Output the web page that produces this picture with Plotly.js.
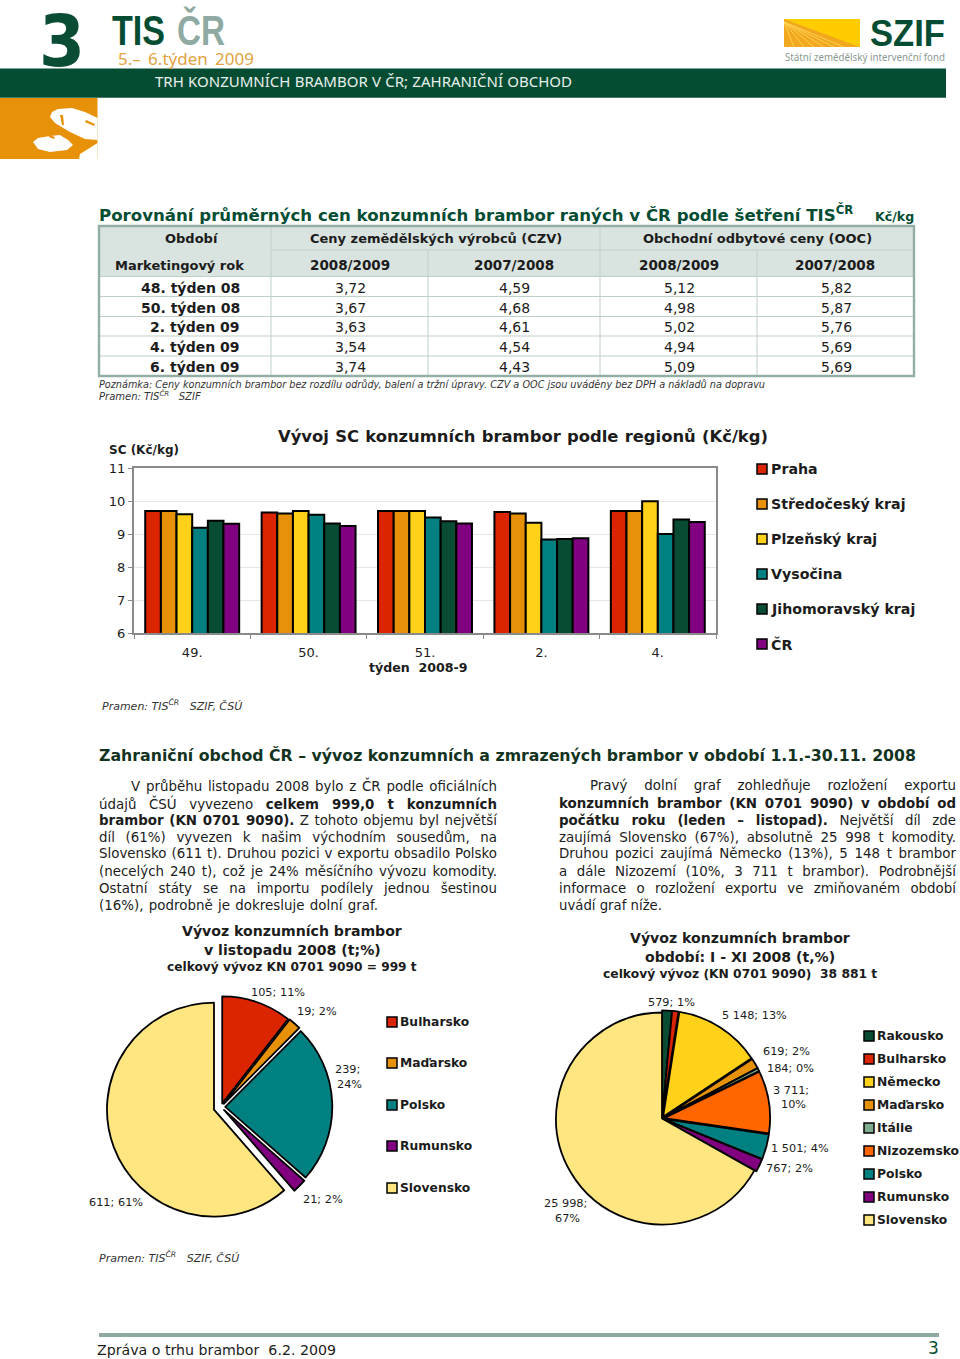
<!DOCTYPE html>
<html><head><meta charset="utf-8">
<script src="https://cdn.plot.ly/plotly-3.0.1.min.js"></script>
<style>html,body{margin:0;padding:0;background:#fff}#c{width:960px;height:1359px}</style></head>
<body><div id="c"></div>
<script>
// ---------- DATA ----------
const weeks = ['49.','50.','51.','2.','4.'];
const regionNames = ['Praha','Středočeský kraj','Plzeňský kraj','Vysočina','Jihomoravský kraj','ČR'];
const regionColors = ['#DB2400','#E79108','#FFD119','#008080','#084D33','#800080'];
const praha      = [9.70,9.65,9.70,9.67,9.70];
const stredocesky= [9.70,9.62,9.70,9.62,9.70];
const plzensky   = [9.60,9.70,9.70,9.34,9.99];
const vysocina   = [9.19,9.58,9.50,8.83,9.00];
const jihomorav  = [9.40,9.32,9.39,8.85,9.44];
const cr         = [9.31,9.24,9.32,8.87,9.36];
const regionValues = [praha,stredocesky,plzensky,vysocina,jihomorav,cr];

const tablePeriods = ['48. týden 08','50. týden 08','2. týden 09','4. týden 09','6. týden 09'];
const czv0809 = ['3,72','3,67','3,63','3,54','3,74'];
const czv0708 = ['4,59','4,68','4,61','4,54','4,43'];
const ooc0809 = ['5,12','4,98','5,02','4,94','5,09'];
const ooc0708 = ['5,82','5,87','5,76','5,69','5,69'];

const pie1Labels = ['Bulharsko','Maďarsko','Polsko','Rumunsko','Slovensko'];
const pie1Values = [105,19,239,21,611];
const pie1Colors = ['#DB2400','#E79108','#008080','#800080','#FFE680'];
const pie1Pull   = [0.035,0.04,0.04,0.04,0.07];

const pie2Labels = ['Rakousko','Bulharsko','Německo','Maďarsko','Itálie','Nizozemsko','Polsko','Rumunsko','Slovensko'];
const pie2Values = [579,374,5148,619,184,3711,1501,767,25998];
const pie2Colors = ['#084D33','#DB2400','#FFD119','#E79108','#7FAD8E','#FF6600','#008080','#800080','#FFE680'];
const pie2Pull   = [0.02,0.02,0.02,0.02,0.02,0.02,0.02,0.02,0.0];

const leftLines = [
 ['V průběhu listopadu 2008 bylo z ČR podle oficiálních',131,786,497],
 ['údajů ČSÚ vyvezeno <b>celkem 999,0 t konzumních</b>',99,803,497],
 ['<b>brambor (KN 0701 9090).</b> Z tohoto objemu byl největší',99,820,497],
 ['díl (61%) vyvezen k našim východním sousedům, na',99,837,497],
 ['Slovensko (611 t). Druhou pozici v exportu obsadilo Polsko',99,854,497],
 ['(necelých 240 t), což je 24% měsíčního vývozu komodity.',99,871,497],
 ['Ostatní státy se na importu podílely jednou šestinou',99,888,497],
 ['(16%), podrobně je dokresluje dolní graf.',99,905,378]];
const rightLines = [
 ['Pravý dolní graf zohledňuje rozložení exportu',590,786,956],
 ['<b>konzumních brambor (KN 0701 9090) v období od</b>',559,803,956],
 ['<b>počátku roku (leden – listopad).</b> Největší díl zde',559,820,956],
 ['zaujímá Slovensko (67%), absolutně 25 998 t komodity.',559,837,956],
 ['Druhou pozici zaujímá Německo (13%), 5 148 t brambor',559,854,956],
 ['a dále Nizozemí (10%, 3 711 t brambor). Podrobnější',559,871,956],
 ['informace o rozložení exportu ve zmiňovaném období',559,888,956],
 ['uvádí graf níže.',559,905,662]];

const pie1Notes = [['105; 11%',278,993],['19; 2%',317,1012],['239;',347,1069],['24%',349,1084],['21; 2%',323,1199],['611; 61%',116,1202]];
const pie2Notes = [['579; 1%',671,1002],['5 148; 13%',754,1015],['619; 2%',786,1051],['184; 0%',790,1068],['3 711;',791,1090],['10%',793,1104],['1 501; 4%',800,1148],['767; 2%',789,1168],['25 998;',565,1203],['67%',567,1218]];

// ---------- HELPERS ----------
const W=960,H=1359;
const px=x=>x/W, py=y=>1-y/H;
const V="'DejaVu Sans',Verdana,sans-serif", LS="'Liberation Sans',Arial,sans-serif", NS="'Noto Sans',sans-serif";
const DG='#044D33';
const anns=[],fits=[],shapes=[];
function T(text,x,y,o={}){
  let weight='normal',style='normal',m;
  if((m=text.match(/^<b>([^<]*)<\/b>$/))){text=m[1];weight='bold';}
  else if((m=text.match(/^<i>([^<]*)<\/i>$/))){text=m[1];style='italic';}
  const a={text,x:px(x),y:py(y),xref:'paper',yref:'paper',showarrow:false,borderpad:0,borderwidth:0,
    xanchor:o.a||'left',yanchor:'middle',align:o.a||'left',
    font:{family:o.f||V,size:o.s||13,color:o.c||'#1c1c1c',weight,style}};
  anns.push(a); if(o.fit) fits.push([anns.length-1,o.fit]);
}
function R(x0,y0,x1,y1,fill,line,lw){
  shapes.push({type:'rect',xref:'paper',yref:'paper',x0:px(x0),x1:px(x1),y0:py(y0),y1:py(y1),
    fillcolor:fill||'rgba(0,0,0,0)',line:{color:line||'rgba(0,0,0,0)',width:lw||0},layer:'below'});
}
function P(pts,fill){
  const d=pts.map((p,i)=>(i?'L':'M')+px(p[0])+','+py(p[1])).join(' ')+' Z';
  shapes.push({type:'path',path:d,xref:'paper',yref:'paper',fillcolor:fill,line:{width:0},layer:'below'});
}
function L(x0,y0,x1,y1,c,w){
  shapes.push({type:'line',xref:'paper',yref:'paper',x0:px(x0),x1:px(x1),y0:py(y0),y1:py(y1),line:{color:c,width:w},layer:'below'});
}

// ---------- HEADER ----------
R(0,68.5,946,97.7,DG);
R(0,98,97.5,159,'#E79108');
P([[50,117],[52,112],[58,109],[72,108],[85,112],[97.5,118],[97.5,140],[85,139],[70,132],[55,123]],'#fff');
P([[33,142],[38,138],[50,136],[60,135],[68,140],[73,145],[67,150],[50,152],[38,149]],'#fff');
P([[97.5,143],[88,149],[80,154],[79,159],[97.5,159]],'#fff');
P([[60,115],[63,115],[64,125],[62,125]],'#E79108');
P([[86,120],[95,124],[94,126],[85,122]],'#E79108');
P([[49,135],[55,137],[54,139],[49,137]],'#E79108');
T('<b>3</b>',39,41,{s:72,c:'#0A4D34',fit:46});
T('<b>TIS</b>',112,30,{s:42,c:DG,f:LS,fit:53});
T('<b>ČR</b>',177,30,{s:42,c:'#8FA9A3',f:LS,fit:48});
T('5.– 6.týden 2009',118,59,{s:17,c:'#E0A33F',f:NS,fit:136});
T('TRH KONZUMNÍCH BRAMBOR V ČR; ZAHRANIČNÍ OBCHOD',155,81,{s:15,c:'#E8F0EC',f:NS,fit:417});
R(784,19,860,47,'#FFCC00');
P([[784,19],[860,47],[784,47]],'#F2A81E');
[[794,47],[804,47],[814,47],[824,47],[834,47],[844,47]].forEach(p=>L(784,22,p[0],p[1],'#FFD95A',0.8));
T('<b>SZIF</b>',870,33.5,{s:37,c:DG,f:LS,fit:75});
T('Státní zemědělský intervenční fond',785,57.5,{s:10.5,c:'#8A9A94',f:NS,fit:160});

// ---------- TABLE ----------
T('<b>Porovnání průměrných cen konzumních brambor raných v ČR podle šetření TIS<sup>ČR</sup></b>',99,213.5,{s:16.6,c:DG});
T('<b>Kč/kg</b>',875,216,{s:12.6,c:DG});
const borderC='#93AFA5', innerC='#BFD0C9';
const rowY=[276.5,296.5,316.5,336,356];
R(99,226,914,276.5,'#D9E3DF');
L(271,226,271,376,innerC,1); L(600,226,600,376,innerC,1);
L(428,250,428,376,innerC,1); L(757,250,757,376,innerC,1);
L(271,250,914,250,innerC,1);
rowY.forEach(y=>L(99,y,914,y,innerC,1.2));
R(99,226,914,376,'rgba(0,0,0,0)',borderC,2.4);
T('<b>Období</b>',192,239,{s:13,a:'center'});
T('<b>Marketingový rok</b>',179,265,{s:13,a:'center'});
T('<b>Ceny zemědělských výrobců (CZV)</b>',436,239,{s:13,a:'center'});
T('<b>Obchodní odbytové ceny (OOC)</b>',757,239,{s:13,a:'center'});
['2008/2009','2007/2008','2008/2009','2007/2008'].forEach((s,i)=>T('<b>'+s+'</b>',[350,514,679,835][i],265,{s:13.5,a:'center'}));
const rowTextY=[288,308,327,347,367];
tablePeriods.forEach((p,i)=>{
  T('<b>'+p+'</b>',240,rowTextY[i],{s:14,a:'right'});
  T(czv0809[i],350,rowTextY[i],{s:14,a:'center'});
  T(czv0708[i],514,rowTextY[i],{s:14,a:'center'});
  T(ooc0809[i],679,rowTextY[i],{s:14,a:'center'});
  T(ooc0708[i],836,rowTextY[i],{s:14,a:'center'});
});
T('<i>Poznámka: Ceny konzumních brambor bez rozdílu odrůdy, balení a tržní úpravy. CZV a OOC jsou uváděny bez DPH a nákladů na dopravu</i>',99,384,{s:10,c:'#333',fit:666});
T('<i>Pramen: TIS<sup>ČR</sup>   SZIF</i>',99,396,{s:10,c:'#333'});

// ---------- BAR CHART TEXT ----------
T('<b>Vývoj SC konzumních brambor podle regionů (Kč/kg)</b>',278,437,{s:16.4,c:'#1c1c1c',fit:490});
T('<b>SC (Kč/kg)</b>',109,450,{s:12});
T('<b>týden  2008-9</b>',418,667,{s:12.6,a:'center'});
T('<i>Pramen: TIS<sup>ČR</sup>   SZIF, ČSÚ</i>',102,705,{s:11,c:'#333'});
regionNames.forEach((n,i)=>{
  const y=[469,504,539,574,609,644][i];
  R(757,y-5,767,y+5,regionColors[i],'#000',1.5);
  T('<b>'+n+'</b>',771,y,{s:14.2});
});

// ---------- TRADE SECTION ----------
T('<b>Zahraniční obchod ČR – vývoz konzumních a zmrazených brambor v období 1.1.-30.11. 2008</b>',99,755,{s:16.5,c:'#13331f',fit:817});
leftLines.concat(rightLines).forEach(l=>T(l[0],l[1],l[2],{s:13.4,c:'#1c1c1c',fit:l[3]-l[1]}));

T('<b>Vývoz konzumních brambor</b>',292,931,{s:14.1,a:'center'});
T('<b>v listopadu 2008 (t;%)</b>',292,950,{s:14.1,a:'center'});
T('<b>celkový vývoz KN 0701 9090 = 999 t</b>',292,967,{s:12.2,a:'center'});
T('<b>Vývoz konzumních brambor</b>',740,938,{s:14.1,a:'center'});
T('<b>období: I - XI 2008 (t,%)</b>',740,957,{s:14.1,a:'center'});
T('<b>celkový vývoz (KN 0701 9090)  38 881 t</b>',740,974,{s:12.3,a:'center'});
pie1Notes.concat(pie2Notes).forEach(n=>T(n[0],n[1],n[2],{s:11.3,a:'center',c:'#1c1c1c'}));
pie1Labels.forEach((n,i)=>{
  const y=[1022,1063,1105,1146,1188][i];
  R(387,y-5,397,y+5,pie1Colors[i],'#000',1.5);
  T('<b>'+n+'</b>',400,y,{s:12.3});
});
pie2Labels.forEach((n,i)=>{
  const y=1036+i*23;
  R(864,y-5,874,y+5,pie2Colors[i],'#000',1.5);
  T('<b>'+n+'</b>',877,y,{s:12.3});
});
T('<i>Pramen: TIS<sup>ČR</sup>   SZIF, ČSÚ</i>',99,1257,{s:11,c:'#333'});

// ---------- FOOTER ----------
R(99,1333,939,1337,'#8FA9A3');
T('Zpráva o trhu brambor  6.2. 2009',97,1350,{s:14.5,c:'#1c1c1c',fit:239});
T('3',928,1348,{s:17,c:DG});

// ---------- TRACES ----------
const traces=regionNames.map((n,i)=>({type:'bar',name:n,x:weeks,y:regionValues[i],
  marker:{color:regionColors[i],line:{color:'#000',width:2}},xaxis:'x',yaxis:'y',showlegend:false,hoverinfo:'skip'}));
function pieDom(cx,cy,r,pull){
  const m=Math.max(...pull), half=r*(1+m);
  return {x:[px(cx-half),px(cx+half)],y:[py(cy+half),py(cy-half)]};
}
traces.push({type:'pie',labels:pie1Labels,values:pie1Values,sort:false,direction:'clockwise',rotation:0,
  pull:pie1Pull,textinfo:'none',hoverinfo:'skip',showlegend:false,
  marker:{colors:pie1Colors,line:{color:'#000',width:1.8}},domain:pieDom(221,1107,107,pie1Pull)});
traces.push({type:'pie',labels:pie2Labels,values:pie2Values,sort:false,direction:'clockwise',rotation:0,
  pull:pie2Pull,textinfo:'none',hoverinfo:'skip',showlegend:false,
  marker:{colors:pie2Colors,line:{color:'#000',width:1.8}},domain:pieDom(662,1118.5,106,pie2Pull)});

const axC='#8A8A8A';
const layout={width:W,height:H,margin:{l:0,r:0,t:0,b:0},autosize:false,paper_bgcolor:'#fff',plot_bgcolor:'#fff',
  barmode:'group',bargap:0.193,bargroupgap:0,showlegend:false,
  font:{family:V,size:13,color:'#1c1c1c'},
  xaxis:{domain:[px(134),px(716)],type:'category',showgrid:false,zeroline:false,
    showline:true,linecolor:axC,linewidth:2,mirror:true,ticks:'outside',ticklen:4,tickcolor:axC,tickson:'boundaries',
    tickfont:{size:13,family:V,color:'#1c1c1c'},ticklabelstandoff:6},
  yaxis:{domain:[py(633),py(468)],range:[6,11],dtick:1,tick0:6,showgrid:true,gridcolor:'#E6E6E6',gridwidth:1,zeroline:false,
    showline:true,linecolor:axC,linewidth:2,mirror:true,ticks:'outside',ticklen:4,tickcolor:axC,
    tickfont:{size:13,family:V,color:'#1c1c1c'},ticklabelstandoff:0},
  shapes,annotations:anns};
Plotly.newPlot('c',traces,layout,{staticPlot:true,displayModeBar:false}).then(gd=>{
  // fit lines to the widths: stretch the word gaps,
  // or condense the glyphs when the installed font runs wider
  const nodes=[...gd.querySelectorAll('.annotation')];
  fits.forEach(([i,w])=>{
    const g=nodes.find(n=>+n.getAttribute('data-index')===i); if(!g) return;
    const t=g.querySelector('.annotation-text'); if(!t) return;
    const len=t.getComputedTextLength();
    const n=(t.textContent.match(/ /g)||[]).length;
    if(len>w && !t.querySelector('tspan')){
      t.setAttribute('textLength',w); t.setAttribute('lengthAdjust','spacingAndGlyphs');
    } else if(n>0){
      t.style.wordSpacing=((w-len)/n)+'px';
    }
  });
});
</script></body></html>
